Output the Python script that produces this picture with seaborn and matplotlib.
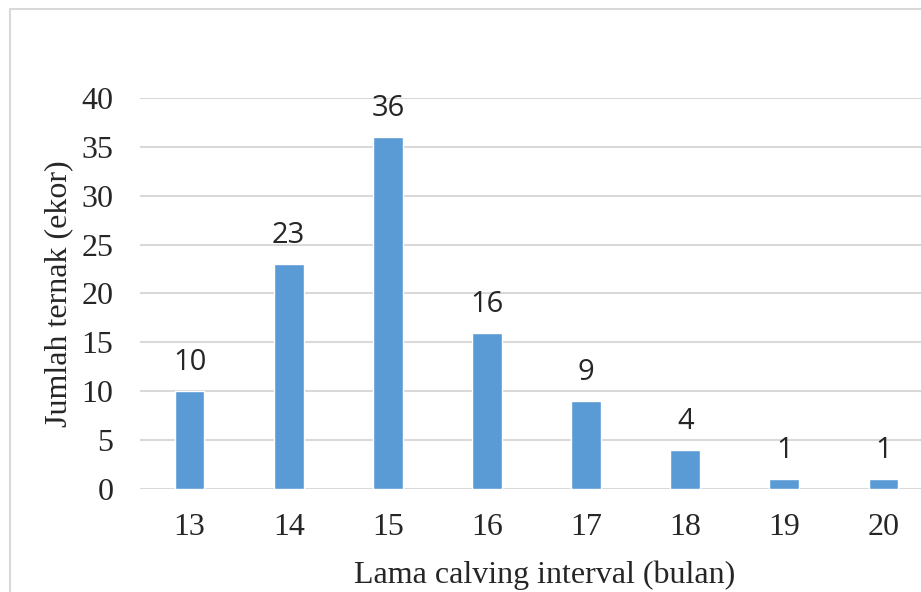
import matplotlib
matplotlib.use("Agg")
import matplotlib.pyplot as plt
import seaborn as sns
import pandas as pd
from matplotlib.patches import Rectangle

# Data
bulan = ["13", "14", "15", "16", "17", "18", "19", "20"]
jumlah = [10, 23, 36, 16, 9, 4, 1, 1]
y_ticks = [0, 5, 10, 15, 20, 25, 30, 35, 40]

df = pd.DataFrame({"bulan": bulan, "jumlah": jumlah})

sns.set_style("white")
plt.rcParams["font.family"] = ["Liberation Serif", "DejaVu Serif"]

fig = plt.figure(figsize=(9.21, 5.92), dpi=100)
W, H = 921, 592

# outer chart border (cropped at right and bottom in the reference)
fig.patches.append(Rectangle((10 / W, -0.1), 1.2, (H - 9) / H + 0.1,
                             transform=fig.transFigure, fill=False,
                             edgecolor="#d9d9d9", linewidth=1.5))

ax = fig.add_axes([140 / W, (H - 489) / H, (933 - 140) / W, (489 - 98) / H])

sns.barplot(data=df, x="bulan", y="jumlah", color="#5b9bd5", width=0.3,
            saturation=1, ax=ax, zorder=3)

ax.set_ylim(0, 40)
ax.set_xlim(-0.5, len(bulan) - 0.5)
ax.set_yticks(y_ticks)
ax.yaxis.grid(True, color="#d9d9d9", linewidth=1.5, zorder=0)
ax.set_axisbelow(True)
for s in ax.spines.values():
    s.set_visible(False)

ax.tick_params(axis="y", labelsize=23, length=0, pad=19)
ax.tick_params(axis="x", labelsize=23, length=0, pad=17)

ax.bar_label(ax.containers[0], labels=[str(v) for v in jumlah], padding=10,
             fontsize=21, family=["Open Sans", "DejaVu Sans"])

ax.set_ylabel("Jumlah ternak (ekor)", fontsize=23, labelpad=6)
ax.set_xlabel("Lama calving interval (bulan)", fontsize=23, va="center")
ax.xaxis.set_label_coords((545 - 140) / (933 - 140), -(575 - 489) / (489 - 98))

fig.savefig("out.png", dpi=100)
